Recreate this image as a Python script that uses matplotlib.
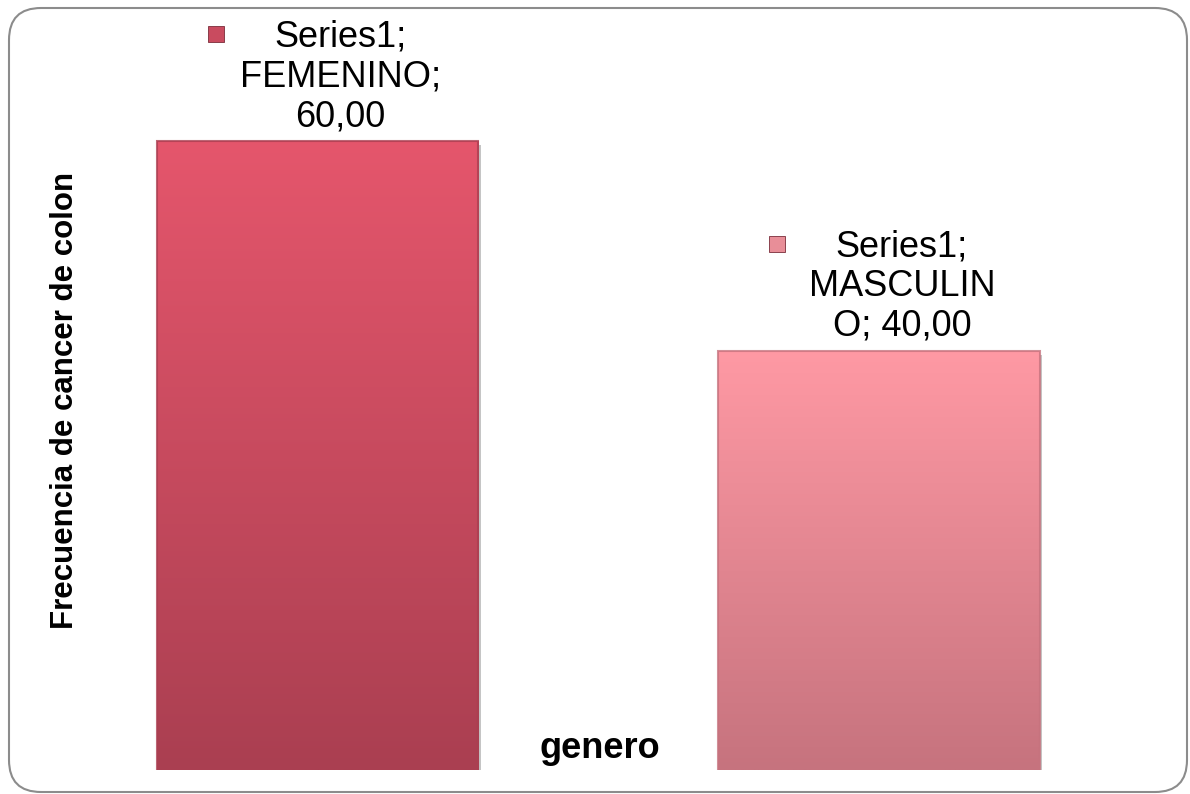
import numpy as np
import matplotlib.pyplot as plt
from matplotlib.colors import LinearSegmentedColormap
from matplotlib.patches import FancyBboxPatch
from matplotlib.transforms import ScaledTranslation
import matplotlib.patheffects as pe

plt.rcParams['font.family'] = ['Liberation Sans', 'DejaVu Sans']

# data
categories = ['FEMENINO', 'MASCULINO']
values = [60.00, 40.00]
series_name = 'Series1'
label_texts = ['Series1;\nFEMENINO;\n60,00', 'Series1;\nMASCULIN\nO; 40,00']
top_colors = ['#e5566c', '#ff99a4']
bottom_colors = ['#aa3f51', '#c6737e']
key_colors = ['#c94b5f', '#e88e98']


def draw_gradient_bar(ax, bar, c_top, c_bottom):
    x0, y0 = bar.get_x(), bar.get_y()
    w, h = bar.get_width(), bar.get_height()
    cmap = LinearSegmentedColormap.from_list('g', [c_bottom, c_top])
    grad = np.linspace(0, 1, 256).reshape(-1, 1)
    im = ax.imshow(grad, extent=[x0, x0 + w, y0, y0 + h], origin='lower',
                   aspect='auto', cmap=cmap, zorder=2)
    im.set_clip_path(bar)


def main():
    fig = plt.figure(figsize=(11.9, 7.94), dpi=100)
    ax = fig.add_axes([36.75 / 1190, 24 / 794, 1123 / 1190, 762 / 794])

    x = np.arange(len(categories))
    bars = ax.bar(x, values, width=0.572, facecolor='none', edgecolor='none', zorder=1)
    for bar, ct, cb in zip(bars, top_colors, bottom_colors):
        bar.set_path_effects([pe.SimplePatchShadow(offset=(2, -3), shadow_rgbFace='#808080', alpha=0.45)])
        draw_gradient_bar(ax, bar, ct, cb)
        # bevel edge
        ax.add_patch(plt.Rectangle((bar.get_x(), 0), bar.get_width(), bar.get_height(),
                                   facecolor='none', edgecolor=cb, lw=1.5, alpha=0.8, zorder=3))

    ax.set_xlim(-0.5, 1.5)
    ax.set_ylim(0, 72.7)
    ax.axis('off')

    # data labels with legend key
    for xi, v, txt, kc in zip(x, values, label_texts, key_colors):
        ax.annotate(txt, xy=(xi, v), xytext=(23, 7), textcoords='offset pixels',
                    ha='center', va='bottom', fontsize=26, linespacing=1.17, color='black')
        off = ScaledTranslation(-102 / 100, 107 / 100, fig.dpi_scale_trans)
        ax.plot([xi], [v], marker='s', markersize=12, markerfacecolor=kc,
                markeredgecolor='#7a2c3a', markeredgewidth=0.6,
                transform=ax.transData + off, clip_on=False, zorder=4)

    fig.text(65 / 1190, 1 - 400 / 794, 'Frecuencia de cancer de colon', rotation=90,
             ha='center', va='center', fontsize=22.5, fontweight='bold')
    fig.text(600 / 1190, 1 - 748 / 794, 'genero', ha='center', va='center',
             fontsize=26, fontweight='bold')

    border = FancyBboxPatch((9, 2), 1178, 784, boxstyle='round,pad=0,rounding_size=32',
                            facecolor='none', edgecolor='#8c8c8c', lw=1.5, transform=None)
    fig.patches.append(border)

    fig.savefig('out.png', dpi=100)


if __name__ == "__main__":
    main()
